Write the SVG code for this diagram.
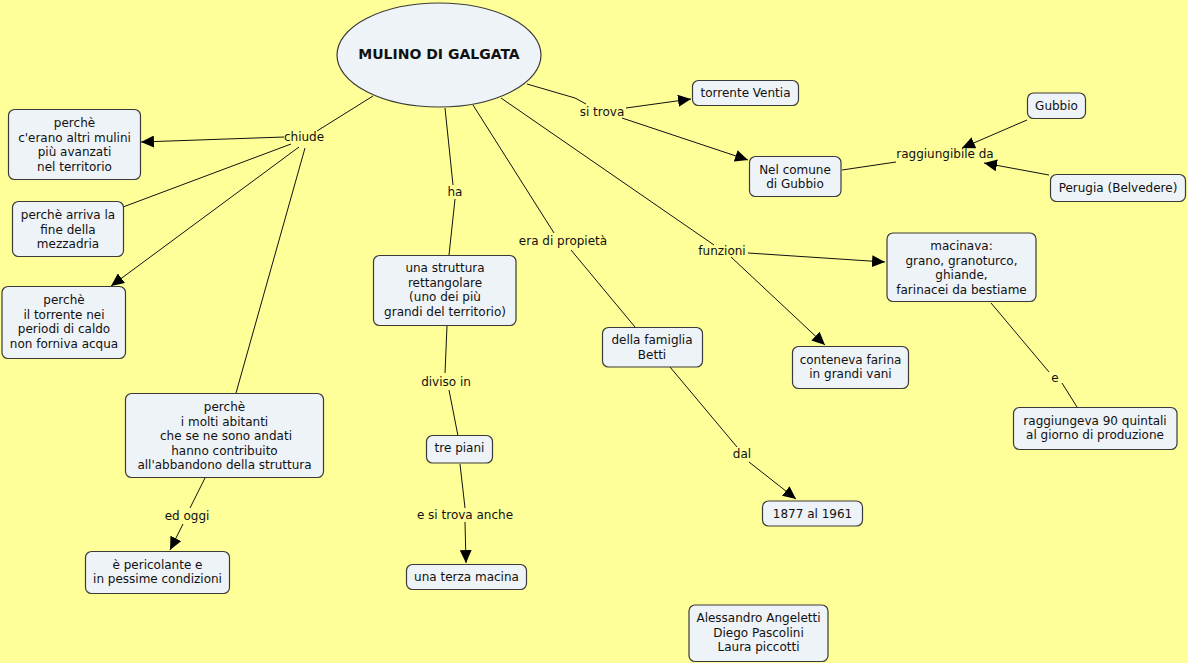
<svg xmlns="http://www.w3.org/2000/svg" width="1188" height="663" viewBox="0 0 1188 663">
<style>
.n rect{fill:#EEF3F7;stroke:#3a3a3a;stroke-width:1.2}
.n ellipse{fill:#EEF3F7;stroke:#3a3a3a;stroke-width:1.2}
text{font-family:"DejaVu Sans","Verdana",sans-serif;font-size:12px;fill:#111;text-anchor:middle;dominant-baseline:central}
.t{font-weight:bold;font-size:14px}
#connectors line,#connectors polyline{stroke:#111;stroke-width:1;fill:none}
.a{marker-end:url(#arr)}
</style>
<defs>
<marker id="arr" markerUnits="userSpaceOnUse" markerWidth="14" markerHeight="12" refX="13" refY="6" orient="auto">
<path d="M0,0 L13,6 L0,12 Z" fill="#000"/>
</marker>
</defs>
<rect width="1188" height="663" fill="#FFFF99"/>
<g id="connectors">
<line x1="373" y1="96" x2="317" y2="131"/>
<line class="a" x1="284" y1="137" x2="141" y2="142"/>
<line x1="291" y1="144" x2="123" y2="207"/>
<line class="a" x1="299" y1="147" x2="111" y2="286"/>
<line x1="305" y1="148" x2="236" y2="393"/>
<line x1="445" y1="108" x2="453" y2="185"/>
<line x1="455" y1="199" x2="449" y2="255"/>
<line x1="473" y1="105" x2="554" y2="233"/>
<line x1="571" y1="250" x2="635" y2="327"/>
<line x1="501" y1="98" x2="714" y2="245"/>
<polyline points="527,84 575,98 586,104"/>
<line class="a" x1="626" y1="108" x2="691" y2="99"/>
<line class="a" x1="622" y1="118" x2="748" y2="160"/>
<line x1="842" y1="170" x2="896" y2="162"/>
<line class="a" x1="1027" y1="120" x2="962" y2="148"/>
<line class="a" x1="1049" y1="175" x2="984" y2="163"/>
<line class="a" x1="748" y1="253" x2="885" y2="262"/>
<line class="a" x1="731" y1="257" x2="825" y2="345"/>
<line x1="991" y1="303" x2="1049" y2="372"/>
<line x1="1062" y1="383" x2="1077" y2="407"/>
<line x1="670" y1="367" x2="737" y2="447"/>
<line class="a" x1="749" y1="462" x2="796" y2="499"/>
<line x1="205" y1="478" x2="190" y2="508"/>
<line class="a" x1="183" y1="524" x2="170" y2="550"/>
<line x1="447" y1="326" x2="445" y2="373"/>
<line x1="449" y1="390" x2="458" y2="436"/>
<line x1="460" y1="464" x2="465" y2="508"/>
<line class="a" x1="465" y1="522" x2="466" y2="563"/>
</g>
<g id="labels">
<text x="304" y="137">chiude</text>
<text x="455" y="192">ha</text>
<text x="563" y="241">era di propietà</text>
<text x="602" y="112">si trova</text>
<text x="722" y="251">funzioni</text>
<text x="945" y="154">raggiungibile da</text>
<text x="1055" y="378">e</text>
<text x="742" y="454">dal</text>
<text x="187" y="516">ed oggi</text>
<text x="446" y="382">diviso in</text>
<text x="465" y="515">e si trova anche</text>
</g>
<g id="n-main" class="n"><ellipse cx="439" cy="55" rx="102" ry="52"/><text class="t" x="439" y="54">MULINO DI GALGATA</text></g>
<g id="n-altri" class="n"><rect x="8.5" y="109.5" width="132" height="70" rx="6"/><text x="74.5" y="123">perchè</text><text x="74.5" y="137.5">c'erano altri mulini</text><text x="74.5" y="152">più avanzati</text><text x="74.5" y="166.5">nel territorio</text></g>
<g id="n-mezzadria" class="n"><rect x="12.5" y="201.5" width="111" height="55" rx="6"/><text x="68" y="215">perchè arriva la</text><text x="68" y="229.5">fine della</text><text x="68" y="244">mezzadria</text></g>
<g id="n-torrente" class="n"><rect x="2" y="286.5" width="123.5" height="72" rx="6"/><text x="64" y="300">perchè</text><text x="64" y="314.5">il torrente nei</text><text x="64" y="329">periodi di caldo</text><text x="64" y="343.5">non forniva acqua</text></g>
<g id="n-abitanti" class="n"><rect x="125.5" y="393.5" width="198" height="84" rx="6"/><text x="224.5" y="407">perchè</text><text x="224.5" y="421.5">i molti abitanti</text><text x="226" y="436">che se ne sono andati</text><text x="224.5" y="450.5">hanno contribuito</text><text x="224.5" y="465">all'abbandono della struttura</text></g>
<g id="n-pericolante" class="n"><rect x="85.5" y="551.5" width="144" height="42" rx="6"/><text x="157.5" y="564.5">è pericolante e</text><text x="157.5" y="579">in pessime condizioni</text></g>
<g id="n-struttura" class="n"><rect x="373.5" y="255.5" width="142.5" height="70" rx="6"/><text x="445" y="268">una struttura</text><text x="445" y="282.5">rettangolare</text><text x="445" y="297">(uno dei più</text><text x="445" y="311.5">grandi del territorio)</text></g>
<g id="n-piani" class="n"><rect x="426.5" y="435.5" width="66" height="27.5" rx="6"/><text x="459.5" y="448">tre piani</text></g>
<g id="n-macina" class="n"><rect x="406.5" y="564.5" width="120" height="25" rx="6"/><text x="466.5" y="577">una terza macina</text></g>
<g id="n-ventia" class="n"><rect x="692.5" y="80.5" width="106" height="25" rx="6"/><text x="745.5" y="93">torrente Ventia</text></g>
<g id="n-comune" class="n"><rect x="749.5" y="156.5" width="91.5" height="40" rx="6"/><text x="795" y="169.5">Nel comune</text><text x="795" y="184">di Gubbio</text></g>
<g id="n-gubbio" class="n"><rect x="1027.5" y="93" width="58" height="25.5" rx="6"/><text x="1056.5" y="105.5">Gubbio</text></g>
<g id="n-perugia" class="n"><rect x="1050.5" y="174.5" width="135" height="27" rx="6"/><text x="1118" y="187.5">Perugia (Belvedere)</text></g>
<g id="n-macinava" class="n"><rect x="887" y="233" width="149" height="68.5" rx="6"/><text x="961.5" y="246">macinava:</text><text x="961.5" y="260.5">grano, granoturco,</text><text x="961.5" y="275">ghiande,</text><text x="961.5" y="289.5">farinacei da bestiame</text></g>
<g id="n-conteneva" class="n"><rect x="792.5" y="346.5" width="116" height="42" rx="6"/><text x="850.5" y="359.5">conteneva farina</text><text x="850.5" y="374">in grandi vani</text></g>
<g id="n-betti" class="n"><rect x="602.5" y="327.5" width="100" height="39.5" rx="6"/><text x="652" y="340">della famiglia</text><text x="652" y="354.5">Betti</text></g>
<g id="n-date" class="n"><rect x="762.5" y="501" width="100" height="25" rx="6"/><text x="812.5" y="513.5">1877 al 1961</text></g>
<g id="n-quintali" class="n"><rect x="1013.5" y="407.5" width="163.5" height="42" rx="6"/><text x="1095" y="420.5">raggiungeva 90 quintali</text><text x="1095" y="435">al giorno di produzione</text></g>
<g id="n-autori" class="n"><rect x="689" y="605" width="139" height="56.5" rx="6"/><text x="758.5" y="618">Alessandro Angeletti</text><text x="758.5" y="632.5">Diego Pascolini</text><text x="758.5" y="647">Laura piccotti</text></g>
</svg>
